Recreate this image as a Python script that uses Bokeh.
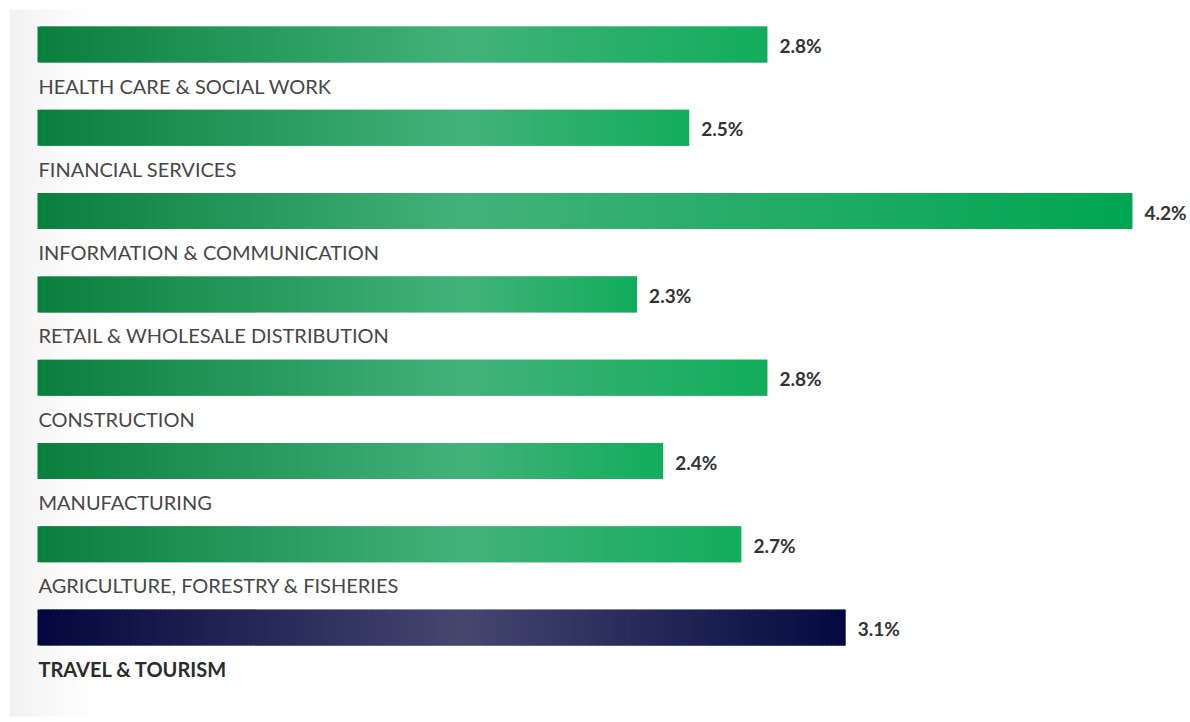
import numpy as np
from bokeh.plotting import figure
from bokeh.models import Range1d, ColumnDataSource
from bokeh.embed import file_html
from bokeh.resources import INLINE
from bokeh.core.properties import value

# ---- data ----
categories = [
    "HEALTH CARE & SOCIAL WORK",
    "FINANCIAL SERVICES",
    "INFORMATION & COMMUNICATION",
    "RETAIL & WHOLESALE DISTRIBUTION",
    "CONSTRUCTION",
    "MANUFACTURING",
    "AGRICULTURE, FORESTRY & FISHERIES",
    "TRAVEL & TOURISM",
]
values = [2.8, 2.5, 4.2, 2.3, 2.8, 2.4, 2.7, 3.1]
value_labels = ["2.8%", "2.5%", "4.2%", "2.3%", "2.8%", "2.4%", "2.7%", "3.1%"]
highlight = [False, False, False, False, False, False, False, True]

# ---- style ----
GREEN_STOPS = ("#0a7f3e", "#43b27a", "#12ad5c")
GREEN_END_MAX = "#00a651"
NAVY_STOPS = ("#03073d", "#45476f", "#040a41")
PEAK = 1.63


def hex2rgb(h):
    h = h.lstrip("#")
    return np.array([int(h[i:i + 2], 16) for i in (0, 2, 4)], dtype=float)


def rgb2hex(c):
    c = np.clip(np.round(c), 0, 255).astype(int)
    return "#%02x%02x%02x" % tuple(c)


def grad_color(x, v, stops):
    a, b, c = (hex2rgb(s) for s in stops)
    if x <= PEAK:
        t = x / PEAK
        return rgb2hex(a + (b - a) * t)
    t = (x - PEAK) / max(v - PEAK, 1e-6)
    return rgb2hex(b + (c - b) * t)


W, H = 1190, 720
p = figure(width=W, height=H, output_backend="svg", toolbar_location=None,
           min_border=0, min_border_left=0, min_border_right=0,
           min_border_top=0, min_border_bottom=0)
px_per_unit = 260.7
x0 = -37 / px_per_unit
p.x_range = Range1d(x0, x0 + W / px_per_unit)
slot = 83.3
top_off = 44
p.y_range = Range1d((H - top_off) / slot, -top_off / slot)
p.xaxis.visible = False
p.yaxis.visible = False
p.grid.visible = False
p.outline_line_color = None
p.background_fill_color = "white"
p.border_fill_color = "white"

# subtle grey panel shading at the left edge
shade_l, shade_r, shade_c = [], [], []
n_sh = 30
for k in range(n_sh):
    sx = 9 + k * 3
    shade_l.append((sx - 37) / px_per_unit)
    shade_r.append((sx + 4 - 37) / px_per_unit)
    g = 241 + (255 - 241) * (k / (n_sh - 1)) ** 0.8
    shade_c.append(rgb2hex(np.array([g, g, g])))
p.quad(left=shade_l, right=shade_r, top=[(9 - top_off) / slot] * n_sh,
       bottom=[(716 - top_off) / slot] * n_sh, fill_color=shade_c, line_color=None)

bar_h = 36 / slot
step = 0.01
seg_y, seg_l, seg_r, seg_c = [], [], [], []
for i, (v, hl) in enumerate(zip(values, highlight)):
    if hl:
        stops = NAVY_STOPS
    else:
        end = GREEN_END_MAX if v >= 4.0 else GREEN_STOPS[2]
        stops = (GREEN_STOPS[0], GREEN_STOPS[1], end)
    n = int(np.ceil(v / step))
    for k in range(n):
        l = k * step
        r = min(l + step * 1.8, v)
        seg_y.append(i)
        seg_l.append(l)
        seg_r.append(r)
        seg_c.append(grad_color(l + step / 2, v, stops))

seg_src = ColumnDataSource(dict(y=seg_y, left=seg_l, right=seg_r, color=seg_c))
p.hbar(y="y", left="left", right="right", height=bar_h, fill_color="color",
       line_color=None, source=seg_src)

idx = list(range(len(categories)))
normal_idx = [i for i in idx if not highlight[i]]
hl_idx = [i for i in idx if highlight[i]]

cat_src = ColumnDataSource(dict(y=normal_idx, x=[0.0] * len(normal_idx),
                                t=[categories[i] for i in normal_idx]))
p.text(x="x", y="y", text="t", source=cat_src, x_offset=1, y_offset=41,
       text_font=value("Lato"), text_font_size="20px", text_color="#474747",
       text_baseline="alphabetic", text_align="left")

hl_src = ColumnDataSource(dict(y=hl_idx, x=[0.0] * len(hl_idx),
                               t=[categories[i] for i in hl_idx]))
p.text(x="x", y="y", text="t", source=hl_src, x_offset=1, y_offset=41,
       text_font=value("Lato"), text_font_size="20px", text_color="#2b2b2b",
       text_font_style="bold", text_baseline="alphabetic", text_align="left")

val_src = ColumnDataSource(dict(y=idx, x=values, t=value_labels))
p.text(x="x", y="y", text="t", source=val_src, x_offset=12, y_offset=1,
       text_font=value("Lato"), text_font_size="19px", text_color="#333333",
       text_font_style="bold", text_baseline="middle", text_align="left")

open("out.html", "w").write(file_html(p, INLINE))
